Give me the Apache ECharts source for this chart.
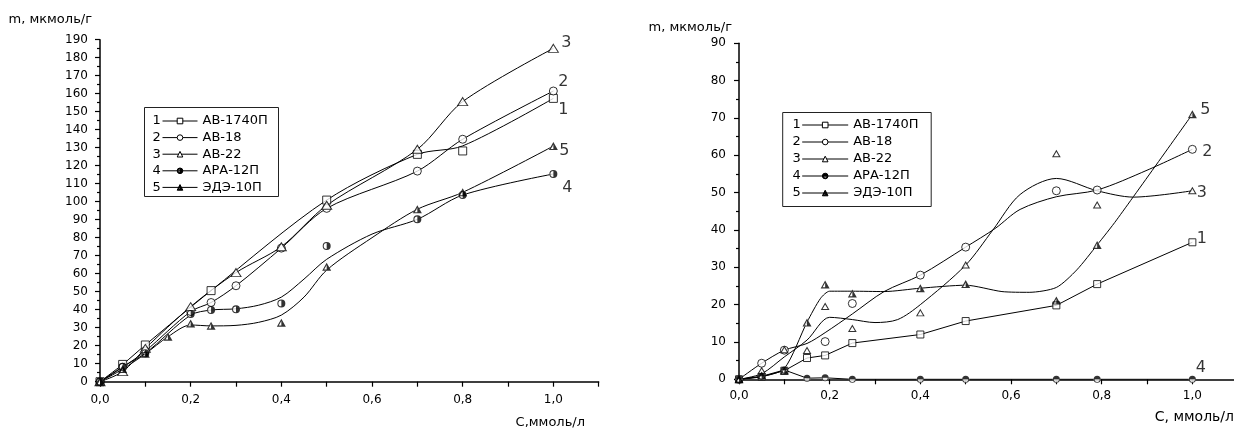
<!DOCTYPE html>
<html>
<head>
<meta charset="utf-8">
<script src="https://cdn.jsdelivr.net/npm/echarts@6/dist/echarts.min.js"></script>
<style>
html, body { margin: 0; padding: 0; background: #fff; }
#wrap { position: relative; width: 1234px; height: 428px; }
#leftChart { position: absolute; left: 0; top: 0; width: 617px; height: 428px; }
#rightChart { position: absolute; left: 617px; top: 0; width: 617px; height: 428px; }
</style>
</head>
<body>
<div id="wrap"><div id="leftChart"></div><div id="rightChart"></div></div>
<script>
// названия сорбентов (легенда)
var names = ['АВ-1740П', 'АВ-18', 'АВ-22', 'АРА-12П', 'ЭДЭ-10П'];
var curveNums = ['1', '2', '3', '4', '5'];

// левый график: точки [C, m]
var left1 = [[0,0],[0.05,9.6],[0.1,20.4],[0.245,50.6],[0.5,100.9],[0.7,126.3],[0.8,128.2],[1.0,157.4]];
var left2 = [[0,0],[0.05,8],[0.1,17],[0.2,39],[0.245,44],[0.3,53.3],[0.4,74.2],[0.5,96.3],[0.7,117],[0.8,134.7],[1.0,161.5]];
var left3 = [[0,0],[0.05,5.6],[0.1,18.5],[0.2,41.7],[0.3,60.6],[0.4,75],[0.5,98],[0.7,129.1],[0.8,155.6],[1.0,185.2]];
var left4 = [[0,0],[0.05,8.3],[0.1,15.8],[0.2,37.6],[0.245,39.8],[0.3,40.2],[0.4,43.5],[0.5,75.4],[0.7,90.2],[0.8,103.7],[1.0,115.4]];
var left5 = [[0,0],[0.05,7],[0.1,15.5],[0.15,25],[0.2,32.4],[0.245,31.1],[0.4,32.8],[0.5,63.9],[0.7,95.8],[0.8,105.2],[1.0,130.9]];
// левый график: сглаженные кривые
var left1Curve = [[0,0],[0.05,9.6],[0.1,20.4],[0.245,50.6],[0.5,100.9],[0.7,126.3],[0.8,131],[1.0,157.4]];
var left4Curve = [[0,0],[0.05,8.3],[0.1,15.8],[0.2,37],[0.245,39.8],[0.3,40.5],[0.35,42.5],[0.4,47],[0.45,57],[0.5,68],[0.6,82],[0.7,90.2],[0.8,103.7],[1.0,115.4]];
var left5Curve = [[0,0],[0.05,7],[0.1,15.5],[0.15,25],[0.2,31.5],[0.245,31],[0.3,31.3],[0.35,33],[0.4,37],[0.45,47],[0.5,62],[0.6,80],[0.7,95.8],[0.8,105.2],[1.0,130.9]];

// правый график: точки [C, m]
var right1 = [[0,0],[0.05,0.7],[0.1,2.3],[0.15,5.7],[0.19,6.4],[0.25,9.7],[0.4,12],[0.5,15.6],[0.7,19.8],[0.79,25.5],[1.0,36.7]];
var right2 = [[0,0],[0.05,4.3],[0.1,7.8],[0.19,10.1],[0.25,20.3],[0.4,27.9],[0.5,35.4],[0.7,50.5],[0.79,50.7],[1.0,61.6]];
var right3 = [[0,0],[0.05,2.3],[0.1,7.9],[0.15,7.7],[0.19,19.5],[0.25,13.6],[0.4,17.8],[0.5,30.6],[0.7,60.4],[0.79,46.7],[1.0,50.5]];
var right4 = [[0,0],[0.05,0.8],[0.1,2.5],[0.15,0.3],[0.19,0.4],[0.25,0],[0.4,0],[0.5,0],[0.7,0],[0.79,0],[1.0,0]];
var right5 = [[0,0],[0.05,1],[0.1,2.3],[0.15,15.2],[0.19,25.4],[0.25,23],[0.4,24.4],[0.5,25.5],[0.7,21.1],[0.79,36],[1.0,71]];
// правый график: сглаженные кривые
var right2Curve = [[0,0],[0.05,4.3],[0.1,7.8],[0.15,9.6],[0.19,12.5],[0.25,17.5],[0.32,23.5],[0.4,27.9],[0.5,35.4],[0.565,40.4],[0.62,45.5],[0.7,48.9],[0.79,50.7],[0.9,56],[1.0,61.6]];
var right3Curve = [[0,0],[0.05,1.5],[0.1,6],[0.15,10.5],[0.2,16.6],[0.25,16],[0.3,15.2],[0.35,16],[0.4,20],[0.5,30.6],[0.56,40],[0.62,49.5],[0.7,53.8],[0.79,50.5],[0.87,48.8],[1.0,50.5]];
var right5Curve = [[0,0],[0.05,0.7],[0.1,2.9],[0.15,15.3],[0.18,21.7],[0.2,23.6],[0.25,23.6],[0.32,23.5],[0.4,24.4],[0.5,25.2],[0.58,23.5],[0.64,23.3],[0.7,24.6],[0.745,29.3],[0.79,36],[0.833,42.7],[1.0,71]];

var FONT = 'DejaVu Sans';
// полузакрашенные маркеры
var halfCircleR = 'path://M10 0A10 10 0 1 1 10 20A10 10 0 1 1 10 0ZM10 2.6A7.4 7.4 0 0 0 10 17.4Z';
var halfCircleT = 'path://M10 0A10 10 0 1 1 10 20A10 10 0 1 1 10 0ZM2.6 10A7.4 7.4 0 0 0 17.4 10Z';
var halfTriangle = 'path://M10 0L20 18L0 18ZM10 5.2L4.3 15.5L10 15.5Z';

var emptyStyle = { color: '#fff', borderColor: '#000', borderWidth: 1 };
var solidStyle = { color: '#000' };

function tickLabelX(v) {
	var k = Math.round(v * 10);
	return k % 2 === 0 ? (k / 10).toFixed(1).replace('.', ',') : '';
}

function lastLabel(points, text, offset) {
	return points.map(function (p, i) {
		if (i < points.length - 1) return p;
		return {
			value: p,
			label: { show: true, formatter: text, position: 'inside', offset: offset, color: '#000', fontSize: 16, fontFamily: FONT }
		};
	});
}

function buildSeries(list) {
	var out = [];
	// сначала линии (по ним строится значок легенды)
	list.forEach(function (s) {
		out.push({
			type: 'line', name: s.name, data: s.curve, smooth: s.smooth,
			showSymbol: false, symbol: s.symbol, symbolSize: s.size, silent: true,
			lineStyle: { color: '#000', width: 1 }, itemStyle: s.style, z: 2
		});
	});
	list.forEach(function (s) {
		if (s.base) {
			out.push({ type: 'scatter', name: s.name, data: s.points, symbol: s.base, symbolSize: s.size, itemStyle: { color: '#fff' }, silent: true, z: 3 });
		}
		out.push({
			type: 'scatter', name: s.name, data: lastLabel(s.points, s.num, s.labelOffset),
			symbol: s.symbol, symbolSize: s.size, itemStyle: s.style, silent: true, z: 4
		});
	});
	return out;
}

function legendBox(x, y, w, h, numX, rowY, rowStep) {
	var els = [{ type: 'rect', shape: { x: x, y: y, width: w, height: h }, style: { fill: 'none', stroke: '#222', lineWidth: 1 }, z: 10 }];
	curveNums.forEach(function (n, i) {
		els.push({ type: 'text', x: numX, y: rowY + i * rowStep, z: 10,
			style: { text: n, align: 'center', verticalAlign: 'middle', fontSize: 13, fontFamily: FONT, fill: '#000' } });
	});
	return els;
}

function xAxisOpt(nameText, nameGap, nameSize, namePad, labelMargin) {
	return {
		type: 'value', min: 0, max: 1.1, interval: 0.1,
		name: nameText, nameLocation: 'end', nameGap: nameGap, nameMoveOverlap: false,
		nameTextStyle: { color: '#000', fontSize: nameSize, fontFamily: FONT, align: 'right', verticalAlign: 'top', padding: [namePad, 0, 0, 0] },
		axisLine: { lineStyle: { color: '#000', width: 1.5 } },
		axisTick: { length: 5, lineStyle: { color: '#000', width: 1.2 } },
		axisLabel: { color: '#000', fontSize: 12, fontFamily: FONT, margin: labelMargin, formatter: tickLabelX },
		splitLine: { show: false }
	};
}

function yAxisOpt(maxV, nameGap, namePad, labelMargin) {
	return {
		type: 'value', min: 0, max: maxV, interval: 10,
		name: 'm, мкмоль/г', nameLocation: 'end', nameGap: nameGap, nameMoveOverlap: false,
		nameTextStyle: { color: '#000', fontSize: 13, fontFamily: FONT, align: 'right', verticalAlign: 'middle', padding: [0, namePad, 0, 0] },
		axisLine: { show: true, lineStyle: { color: '#000', width: 1.5 } },
		axisTick: { show: true, length: 5, lineStyle: { color: '#000', width: 1.2 } },
		minorTick: { show: true, splitNumber: 2, length: 3, lineStyle: { color: '#000', width: 1.2 } },
		axisLabel: { color: '#000', fontSize: 12, fontFamily: FONT, margin: labelMargin },
		splitLine: { show: false }
	};
}

function legendOpt(left, top, itemWidth, gap) {
	return {
		orient: 'vertical', left: left, top: top, padding: 0,
		itemWidth: itemWidth, itemHeight: 7, itemGap: gap, selectedMode: false,
		lineStyle: { color: '#000', width: 1 },
		itemStyle: { borderColor: '#000', borderWidth: 1 },
		textStyle: { color: '#000', fontSize: 13, lineHeight: 13, fontFamily: FONT },
		data: names
	};
}

var leftList = [
	{ name: names[0], num: '1', points: left1, curve: left1Curve, smooth: 0.3, symbol: 'rect', size: 8, style: emptyStyle, labelOffset: [10, 11] },
	{ name: names[1], num: '2', points: left2, curve: left2, smooth: 0.3, symbol: 'circle', size: 8, style: emptyStyle, labelOffset: [10, -9] },
	{ name: names[2], num: '3', points: left3, curve: left3, smooth: 0.3, symbol: 'triangle', size: [10, 8], style: emptyStyle, labelOffset: [13, -5] },
	{ name: names[3], num: '4', points: left4, curve: left4Curve, smooth: 0.3, symbol: halfCircleR, base: 'circle', size: 8, style: solidStyle, labelOffset: [14, 14] },
	{ name: names[4], num: '5', points: left5, curve: left5Curve, smooth: 0.3, symbol: halfTriangle, base: 'triangle', size: [9, 8], style: solidStyle, labelOffset: [11, 5] }
];

var rightList = [
	{ name: names[0], num: '1', points: right1, curve: right1, smooth: false, symbol: 'rect', size: 7, style: emptyStyle, labelOffset: [9.5, -3] },
	{ name: names[1], num: '2', points: right2, curve: right2Curve, smooth: 0.3, symbol: 'circle', size: 8, style: emptyStyle, labelOffset: [15, 2.5] },
	{ name: names[2], num: '3', points: right3, curve: right3Curve, smooth: 0.3, symbol: 'triangle', size: [7, 6], style: emptyStyle, labelOffset: [9.5, 2.5] },
	{ name: names[3], num: '4', points: right4, curve: right4, smooth: false, symbol: halfCircleT, base: 'circle', size: 7, style: solidStyle, labelOffset: [8.5, -11] },
	{ name: names[4], num: '5', points: right5, curve: right5Curve, smooth: 0.25, symbol: halfTriangle, base: 'triangle', size: [9, 8], style: solidStyle, labelOffset: [13, -4] }
];

var leftOpt = {
	animation: false,
	backgroundColor: '#fff',
	textStyle: { fontFamily: FONT },
	grid: { left: 100, right: 18.3, top: 39.7, bottom: 46.3, outerBoundsMode: 'none' },
	xAxis: xAxisOpt('С,ммоль/л', -13.7, 13, 34, 12),
	yAxis: yAxisOpt(190, 19.7, 8, 12),
	legend: legendOpt(162, 114.5, 35, 3.6),
	graphic: legendBox(144.5, 107.5, 134, 89, 156.7, 121, 16.6),
	series: buildSeries(leftList)
};

var rightOpt = {
	animation: false,
	backgroundColor: '#fff',
	textStyle: { fontFamily: FONT },
	grid: { left: 122, right: -3.7, top: 43.3, bottom: 48.7, outerBoundsMode: 'none' },
	xAxis: xAxisOpt('С, ммоль/л', -3.7, 14, 31, 10.5),
	yAxis: yAxisOpt(90, 15.3, 7, 13),
	legend: legendOpt(184.7, 118.5, 46, 4),
	graphic: legendBox(165.7, 112.5, 148.5, 94, 179.7, 125, 17),
	series: buildSeries(rightList)
};

var leftChart = echarts.init(document.querySelector('#leftChart'));
leftChart.setOption(leftOpt);
var rightChart = echarts.init(document.querySelector('#rightChart'));
rightChart.setOption(rightOpt);
</script>
</body>
</html>
